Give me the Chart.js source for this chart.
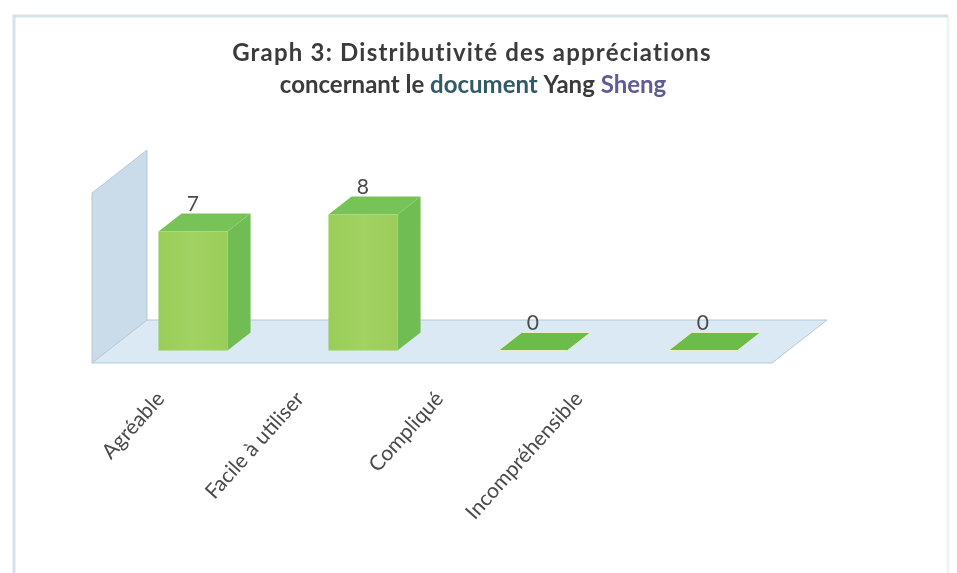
<!DOCTYPE html>
<html>
<head>
<meta charset="utf-8">
<script src="https://cdn.jsdelivr.net/npm/chart.js@4.4.1/dist/chart.umd.min.js"></script>
<style>
  html, body { margin: 0; padding: 0; background: #fff; }
  #wrap { width: 957px; height: 573px; }
</style>
</head>
<body>
<div id="wrap"><canvas id="chart" width="957" height="573"></canvas></div>
<script>
// data
const categories = ["Agréable", "Facile à utiliser", "Compliqué", "Incompréhensible"];
const counts = [7, 8, 0, 0];
const yMax = 10;
const titleLine1 = [["Graph 3: Distributivité des appréciations", "#3b3b3b"]];
const titleLine2 = [["concernant le ", "#3b3b3b"], ["document", "#2f5a68"], [" Yang ", "#3b3b3b"], ["Sheng", "#5f5b93"]];

// 3d look
const DX = 55, DY = -43;     // floor depth offset
const F1 = 0.29, F2 = 0.71;  // bar front/back position inside the depth
const FONT = "Lato, 'Open Sans', sans-serif";

function poly(ctx, pts, fill, stroke) {
  ctx.beginPath();
  ctx.moveTo(pts[0][0], pts[0][1]);
  pts.slice(1).forEach(p => ctx.lineTo(p[0], p[1]));
  ctx.closePath();
  ctx.fillStyle = fill;
  ctx.fill();
  if (stroke) {
    ctx.strokeStyle = stroke;
    ctx.lineWidth = 1;
    ctx.stroke();
  }
}

function drawLine(ctx, parts, cx, baseY) {
  const total = parts.reduce((s, p) => s + ctx.measureText(p[0]).width, 0);
  let x = cx - total / 2;
  parts.forEach(([txt, col]) => {
    ctx.fillStyle = col;
    ctx.fillText(txt, x, baseY);
    x += ctx.measureText(txt).width;
  });
}

const box3d = {
  id: "box3d",
  afterDraw(chart) {
    const { ctx, chartArea: a } = chart;
    const meta = chart.getDatasetMeta(0);
    ctx.save();

    // outer frame
    ctx.lineWidth = 3;
    ctx.strokeStyle = "#f0f3f6";
    ctx.beginPath();
    ctx.moveTo(948, 16);
    ctx.lineTo(948, 580);
    ctx.stroke();
    ctx.strokeStyle = "#d6e1ea";
    ctx.beginPath();
    ctx.moveTo(14, 580);
    ctx.lineTo(14, 16);
    ctx.lineTo(948, 16);
    ctx.stroke();

    // back wall
    poly(ctx, [[a.left, a.bottom], [a.left, a.top], [a.left + DX, a.top + DY], [a.left + DX, a.bottom + DY]],
      "#cadcea", "#b3c9dc");
    // floor
    poly(ctx, [[a.left, a.bottom], [a.right, a.bottom], [a.right + DX, a.bottom + DY], [a.left + DX, a.bottom + DY]],
      "#dae9f4", "#b3c9dc");

    // bars
    meta.data.forEach((bar, i) => {
      const w = bar.width;
      const fx = DX * F1, fy = DY * F1;
      const sdx = DX * (F2 - F1), sdy = DY * (F2 - F1);
      const l = bar.x - w / 2 + fx, r = bar.x + w / 2 + fx;
      const t = bar.y + fy, b = bar.base + fy;
      if (counts[i] > 0) {
        poly(ctx, [[r, t], [r + sdx, t + sdy], [r + sdx, b + sdy], [r, b]], "#6fbd53");
        poly(ctx, [[l, t], [r, t], [r + sdx, t + sdy], [l + sdx, t + sdy]], "#78c358");
        const g = ctx.createLinearGradient(l, 0, r, 0);
        g.addColorStop(0, "#99cd59");
        g.addColorStop(0.5, "#a2d262");
        g.addColorStop(1, "#9acd5a");
        poly(ctx, [[l, t], [r, t], [r, b], [l, b]], g);
      } else {
        poly(ctx, [[l, t], [r, t], [r + sdx, t + sdy], [l + sdx, t + sdy]], "#6cbc4c", "#e9efc8");
      }
      ctx.fillStyle = "#4a4a4a";
      ctx.font = "21px " + FONT;
      ctx.textAlign = "center";
      ctx.textBaseline = "alphabetic";
      ctx.fillText(String(counts[i]), bar.x + fx, t + sdy - 2);
    });

    // category labels
    const xs = chart.scales.x;
    ctx.font = "21px " + FONT;
    ctx.fillStyle = "#4a4a4a";
    categories.forEach((c, i) => {
      const px = xs.getPixelForValue(i);
      const ax = xs.left + (px - xs.left) * 0.82 - 1;
      const ay = a.bottom + 32;
      ctx.save();
      ctx.translate(ax, ay);
      ctx.rotate(-48 * Math.PI / 180);
      ctx.textAlign = "right";
      ctx.textBaseline = "middle";
      ctx.fillText(c, 0, 0);
      ctx.restore();
    });

    // title
    ctx.font = "bold 24px " + FONT;
    ctx.textAlign = "left";
    ctx.textBaseline = "alphabetic";
    ctx.letterSpacing = "1.2px";
    drawLine(ctx, titleLine1, 472, 61);
    ctx.letterSpacing = "0px";
    drawLine(ctx, titleLine2, 473, 93);

    ctx.restore();
  }
};

new Chart(document.getElementById("chart"), {
  type: "bar",
  data: {
    labels: categories,
    datasets: [{
      label: "Appréciations",
      data: counts,
      backgroundColor: "rgba(0,0,0,0)",
      categoryPercentage: 1,
      barPercentage: 0.406
    }]
  },
  options: {
    responsive: false,
    animation: false,
    devicePixelRatio: 1,
    layout: { padding: { left: 92, right: 185, top: 193, bottom: 210 } },
    plugins: { legend: { display: false }, title: { display: false }, tooltip: { enabled: false } },
    scales: {
      x: { display: false },
      y: { display: false, min: 0, max: yMax }
    }
  },
  plugins: [box3d]
});
</script>
</body>
</html>
